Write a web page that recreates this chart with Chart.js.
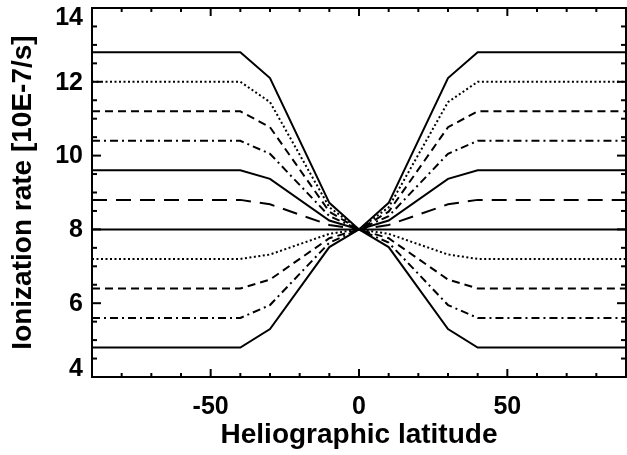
<!DOCTYPE html>
<html>
<head>
<meta charset="utf-8">
<script src="https://cdn.jsdelivr.net/npm/chart.js@4/dist/chart.umd.min.js"></script>
<style>
  body { margin: 0; background: #fff; }
</style>
</head>
<body>
<canvas id="taxaChart" width="627" height="455"></canvas>
<script>
// latitudes onde cada curva muda de inclinação
const latitude = [-90, -40, -30, -10, 0, 10, 30, 40, 90];

// taxas de ionização (10E-7/s), de cima para baixo
const taxa12_8 = [12.8, 12.8, 12.1, 8.72, 8, 8.72, 12.1, 12.8, 12.8];
const taxa12_0 = [12.0, 12.0, 11.45, 8.6, 8, 8.6, 11.45, 12.0, 12.0];
const taxa11_2 = [11.2, 11.2, 10.77, 8.48, 8, 8.48, 10.77, 11.2, 11.2];
const taxa10_4 = [10.4, 10.4, 10.05, 8.36, 8, 8.36, 10.05, 10.4, 10.4];
const taxa9_6 = [9.6, 9.6, 9.37, 8.24, 8, 8.24, 9.37, 9.6, 9.6];
const taxa8_8 = [8.8, 8.8, 8.68, 8.12, 8, 8.12, 8.68, 8.8, 8.8];
const taxa8_0 = [8, 8, 8, 8, 8, 8, 8, 8, 8];
const taxa7_2 = [7.2, 7.2, 7.32, 7.88, 8, 7.88, 7.32, 7.2, 7.2];
const taxa6_4 = [6.4, 6.4, 6.64, 7.76, 8, 7.76, 6.64, 6.4, 6.4];
const taxa5_6 = [5.6, 5.6, 5.95, 7.64, 8, 7.64, 5.95, 5.6, 5.6];
const taxa4_8 = [4.8, 4.8, 5.3, 7.52, 8, 7.52, 5.3, 4.8, 4.8];

const xTicks = [-50, 0, 50];
const yTicks = [4, 6, 8, 10, 12, 14];

// estilos de linha (tipo IDL)
const tracos = {
  solido: [],
  pontilhado: [2, 2.5],
  tracejado: [8, 5],
  tracoPonto: [8, 4, 2, 4],
  tracoLongo: [15, 9]
};

const curvas = [
  [taxa12_8, 'solido'],
  [taxa12_0, 'pontilhado'],
  [taxa11_2, 'tracejado'],
  [taxa10_4, 'tracoPonto'],
  [taxa9_6, 'solido'],
  [taxa8_8, 'tracoLongo'],
  [taxa8_0, 'solido'],
  [taxa7_2, 'pontilhado'],
  [taxa6_4, 'tracejado'],
  [taxa5_6, 'tracoPonto'],
  [taxa4_8, 'solido']
];

const fonte = '"Liberation Sans", Arial, Helvetica, sans-serif';

// moldura fechada com marcas para dentro e rótulos do eixo y
const moldura = {
  id: 'moldura',
  afterDraw(chart) {
    const { ctx, chartArea: a, scales: { x, y } } = chart;
    ctx.save();
    ctx.strokeStyle = '#000';
    ctx.lineWidth = 2;
    ctx.strokeRect(a.left, a.top, a.right - a.left, a.bottom - a.top);

    const linha = (x1, y1, x2, y2) => {
      ctx.beginPath();
      ctx.moveTo(x1, y1);
      ctx.lineTo(x2, y2);
      ctx.stroke();
    };

    for (let v = x.min + 10; v < x.max; v += 10) {
      const px = x.getPixelForValue(v);
      const len = v % 50 === 0 ? 8 : 4;
      linha(px, a.bottom, px, a.bottom - len);
      linha(px, a.top, px, a.top + len);
    }
    for (let v = y.min + 0.5; v < y.max; v += 0.5) {
      const py = y.getPixelForValue(v);
      const len = v % 2 === 0 ? 9 : 5;
      linha(a.left, py, a.left + len, py);
      linha(a.right, py, a.right - len, py);
    }

    ctx.fillStyle = '#000';
    ctx.font = 'bold 25px ' + fonte;
    ctx.textAlign = 'right';
    ctx.textBaseline = 'middle';
    yTicks.forEach(v => {
      let py = y.getPixelForValue(v);
      py = Math.min(Math.max(py, a.top + 9), a.bottom - 9);
      ctx.fillText(String(v), a.left - 9, py + 1);
    });
    ctx.restore();
  }
};

new Chart(document.getElementById('taxaChart'), {
  type: 'line',
  data: {
    datasets: curvas.map(([valores, traco]) => ({
      data: latitude.map((lat, i) => ({ x: lat, y: valores[i] })),
      borderColor: '#000',
      borderWidth: 2,
      borderDash: tracos[traco],
      pointRadius: 0,
      tension: 0,
      fill: false
    }))
  },
  options: {
    responsive: false,
    animation: false,
    layout: { padding: { top: 8, right: 1, left: 0, bottom: 0 } },
    plugins: {
      legend: { display: false },
      tooltip: { enabled: false }
    },
    scales: {
      x: {
        type: 'linear',
        min: -90,
        max: 90,
        afterBuildTicks: scale => { scale.ticks = xTicks.map(v => ({ value: v })); },
        afterFit: scale => { scale.height = 78; },
        grid: { display: false, drawTicks: false },
        border: { display: false },
        ticks: {
          color: '#000',
          padding: 15,
          maxRotation: 0,
          font: { family: fonte, size: 25, weight: 'bold' }
        },
        title: {
          display: true,
          text: 'Heliographic latitude',
          color: '#000',
          padding: { top: 0, bottom: 3 },
          font: { family: fonte, size: 28, weight: 'bold' }
        }
      },
      y: {
        type: 'linear',
        min: 4,
        max: 14,
        afterFit: scale => { scale.width = 92; },
        grid: { display: false, drawTicks: false },
        border: { display: false },
        ticks: { display: false },
        title: {
          display: true,
          text: 'Ionization rate [10E-7/s]',
          color: '#000',
          padding: { top: 6, bottom: 0 },
          font: { family: fonte, size: 28, weight: 'bold' }
        }
      }
    }
  },
  plugins: [moldura]
});
</script>
</body>
</html>
